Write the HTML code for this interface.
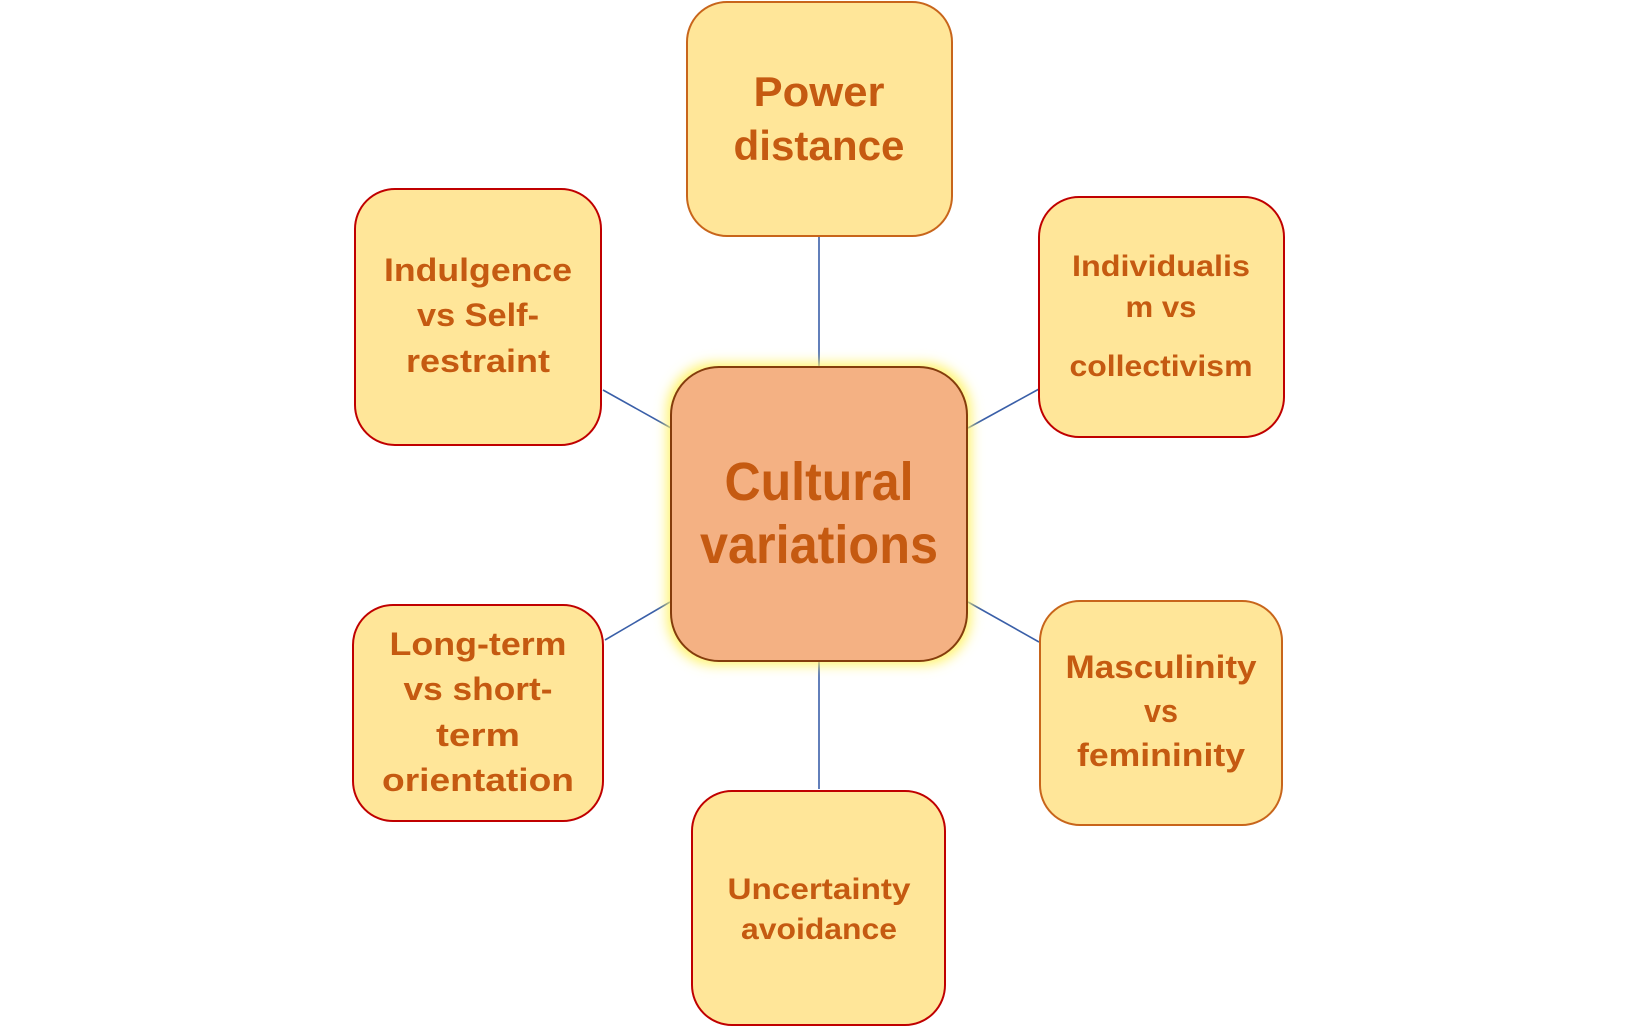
<!DOCTYPE html>
<html><head><meta charset="utf-8"><style>
html,body{margin:0;padding:0;background:#fff;width:1636px;height:1027px;overflow:hidden}
svg{display:block}
text{font-family:"Liberation Sans",Arial,sans-serif;font-weight:bold;fill:#C55A11;text-anchor:middle}
</style></head><body>
<svg width="1636" height="1027" viewBox="0 0 1636 1027" xmlns="http://www.w3.org/2000/svg">
<defs>
<filter id="glow" x="-20%" y="-20%" width="140%" height="140%">
<feGaussianBlur stdDeviation="6"/>
</filter>
</defs>
<g stroke="#3A5FA8" stroke-width="1.6">
<line x1="819" y1="237" x2="819" y2="367"/>
<line x1="819" y1="662" x2="819" y2="789"/>
<line x1="603" y1="390" x2="671" y2="428"/>
<line x1="968" y1="428" x2="1039" y2="389"/>
<line x1="605" y1="640" x2="670" y2="602"/>
<line x1="968" y1="602" x2="1039" y2="642"/>
</g>
<rect x="687" y="2" width="265" height="234" rx="40" fill="#FFE699" stroke="#C8651B" stroke-width="2"/>
<rect x="355" y="189" width="246" height="256" rx="40" fill="#FFE699" stroke="#C00000" stroke-width="2"/>
<rect x="1039" y="197" width="245" height="240" rx="40" fill="#FFE699" stroke="#C00000" stroke-width="2"/>
<rect x="353" y="605" width="250" height="216" rx="40" fill="#FFE699" stroke="#C00000" stroke-width="2"/>
<rect x="1040" y="601" width="242" height="224" rx="40" fill="#FFE699" stroke="#C8651B" stroke-width="2"/>
<rect x="692" y="791" width="253" height="234" rx="40" fill="#FFE699" stroke="#C00000" stroke-width="2"/>
<rect x="667" y="363" width="304" height="302" rx="48" fill="#FFF36A" filter="url(#glow)"/>
<rect x="671" y="367" width="296" height="294" rx="48" fill="#F4B183" stroke="#843C0C" stroke-width="2"/>
<text x="819" y="106" font-size="42" textLength="131" lengthAdjust="spacingAndGlyphs">Power</text>
<text x="819" y="160" font-size="42" textLength="171" lengthAdjust="spacingAndGlyphs">distance</text>
<text x="819" y="500" font-size="54" textLength="189" lengthAdjust="spacingAndGlyphs">Cultural</text>
<text x="819" y="563" font-size="54" textLength="238" lengthAdjust="spacingAndGlyphs">variations</text>
<text x="478" y="281" font-size="32" textLength="188" lengthAdjust="spacingAndGlyphs">Indulgence</text>
<text x="478" y="326" font-size="32" textLength="122" lengthAdjust="spacingAndGlyphs">vs Self-</text>
<text x="478" y="372" font-size="32" textLength="144" lengthAdjust="spacingAndGlyphs">restraint</text>
<text x="1161" y="276" font-size="30" textLength="178" lengthAdjust="spacingAndGlyphs">Individualis</text>
<text x="1161" y="317" font-size="30" textLength="71" lengthAdjust="spacingAndGlyphs">m vs</text>
<text x="1161" y="376" font-size="30" textLength="183" lengthAdjust="spacingAndGlyphs">collectivism</text>
<text x="478" y="655" font-size="32" textLength="177" lengthAdjust="spacingAndGlyphs">Long-term</text>
<text x="478" y="700" font-size="32" textLength="149" lengthAdjust="spacingAndGlyphs">vs short-</text>
<text x="478" y="746" font-size="32" textLength="84" lengthAdjust="spacingAndGlyphs">term</text>
<text x="478" y="791" font-size="32" textLength="192" lengthAdjust="spacingAndGlyphs">orientation</text>
<text x="1161" y="678" font-size="32" textLength="191" lengthAdjust="spacingAndGlyphs">Masculinity</text>
<text x="1161" y="722" font-size="32" textLength="34" lengthAdjust="spacingAndGlyphs">vs</text>
<text x="1161" y="766" font-size="32" textLength="168" lengthAdjust="spacingAndGlyphs">femininity</text>
<text x="819" y="899" font-size="30" textLength="183" lengthAdjust="spacingAndGlyphs">Uncertainty</text>
<text x="819" y="939" font-size="30" textLength="156" lengthAdjust="spacingAndGlyphs">avoidance</text>
</svg>
</body></html>
